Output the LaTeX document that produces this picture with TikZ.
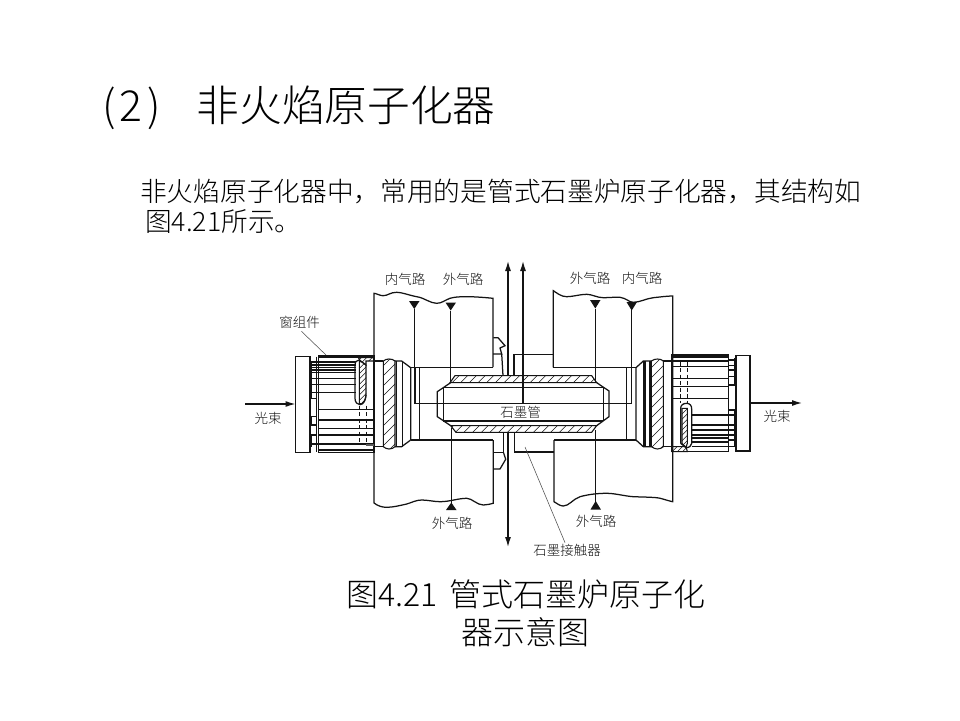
\documentclass[tikz,border=0pt]{standalone}
\usepackage{fontspec}
\setmainfont{Noto Sans CJK SC}[UprightFont=* Light]
\usetikzlibrary{arrows.meta}
\definecolor{ink}{gray}{0.08}
\tikzset{
  part/.style={draw=ink,line width=1.25pt,line join=miter},
  heavy/.style={draw=ink,line width=2pt},
  outline/.style={draw=ink,line width=1.1pt},
  hatchline/.style={draw=ink,line width=.55pt},
  dash part/.style={draw=ink,line width=.9pt,dash pattern=on 4pt off 2.5pt},
  flow/.style={draw=ink,line width=1.25pt,-{Latex[length=10pt,width=6pt]}},
  leader/.style={draw=ink!75,line width=.55pt},
  lab/.style={font=\fontsize{13.5}{14}\selectfont,text=ink,inner sep=0pt},
  slide/.style={text=black,inner sep=0pt,anchor=west},
}
% #1 closed path, #2 xmin, #3 xmax, #4 ymin, #5 ymax, #6 step, #7 run of a stroke
\newcommand\hatched[7]{%
  \begin{scope}
    \clip #1;
    \foreach \hx in {#2,\the\numexpr#2+#6\relax,...,#3} {\draw[hatchline] (\hx,#5) -- ++(#7,{-(#5-#4)});}
  \end{scope}
  \draw[outline] #1;
}
\begin{document}
\begin{tikzpicture}[x=1pt,y=-1pt]
\useasboundingbox (0,0) rectangle (960,720);
\fill[white] (0,0) rectangle (960,720);

% slide text
\node[slide,font=\fontsize{42.7}{44}\selectfont] (title) at (102,107.5) {(\hspace{.1em}2\hspace{.1em})\hspace{.85em}非火焰原子化器};
\node[slide,font=\fontsize{26.7}{28}\selectfont] (body1) at (140,191) {非火焰原子化器中，常用的是管式石墨炉原子化器，其结构如};
\node[slide,font=\fontsize{26.7}{28}\selectfont] (body2) at (145,222) {图4.21所示。};
\node[text=black,inner sep=0pt,font=\fontsize{32}{34}\selectfont] (cap1) at (526,594.5) {图4.21\hspace{.36em}管式石墨炉原子化};
\node[text=black,inner sep=0pt,font=\fontsize{32}{34}\selectfont] (cap2) at (525,632.5) {器示意图};

% blocks
\draw[part] (493,367) -- (493,298.3) .. controls (480,297) and (472,296.7) .. (466.7,296.7) .. controls (458,296.7) and (455,297) .. (450,298.3) .. controls (445,300) and (442,303.3) .. (436.7,303.3) .. controls (430,303.3) and (425,298) .. (416.7,296.7) .. controls (408,295) and (402,292.3) .. (396.7,292.3) .. controls (390,292.3) and (388,295.7) .. (383,295.7) .. controls (380,295.7) and (376,293.3) .. (374,293.3) -- (374,503) .. controls (378,506) and (382,507.3) .. (386.7,507.3) .. controls (393,507.3) and (400,505.5) .. (406.7,504) .. controls (412,502.5) and (416,500) .. (421.7,500) .. controls (428,500) and (434,501.7) .. (440,501.7) .. controls (450,501.7) and (458,498.3) .. (466.7,498.3) .. controls (472,498.3) and (477,505) .. (483.3,505) .. controls (487,505) and (490,504) .. (493.3,503.3) -- (493.3,440);
\draw[part] (553.3,367.3) -- (553.3,290.7) .. controls (557,293) and (561,296.7) .. (566.7,296.7) .. controls (573,296.7) and (580,294.3) .. (586.7,294.3) .. controls (592,294.3) and (597,297.7) .. (603.3,297.7) .. controls (609,297.7) and (614,297) .. (620,297.3) .. controls (626,298) and (629,302.3) .. (633.3,302.3) .. controls (640,302.3) and (646,298.5) .. (653.3,297.7) .. controls (660,297) and (667,296) .. (672.7,296) -- (672.7,501.7) .. controls (665,500) and (661,498) .. (656.7,497.7) .. controls (648,497) and (641,497) .. (633.3,496.7) .. controls (624,496) and (615,493.3) .. (606.7,493.3) .. controls (597,493.3) and (588,494.5) .. (580,496.7) .. controls (573,499) and (569,506) .. (563.3,506) .. controls (560,506) and (557,503.5) .. (554,501.7) -- (554,440);
\draw[part] (410.7,367.5) -- (493,367.5);
\draw[part] (410.7,440) -- (493.3,440);
\draw[part] (553.3,367.5) -- (636,367.5);
\draw[part] (554,440) -- (636,440);

% notches and contacts
\draw[part] (493.3,337.7) -- (498,337.7) -- (505,345.7) -- (500,348) -- (501.7,354) -- (493,354);
\draw[part] (501.7,354) -- (503,375.7);
\draw[part] (493.3,452.5) -- (503.5,452.5) -- (503.5,432);
\draw[part] (503.5,452.5) -- (505.7,459.3) -- (500,469) -- (493.3,469);
\draw[part] (514,375.7) -- (514,354.5) -- (553.3,354.5);
\draw[part] (514.5,432) -- (514.5,452) -- (554,452);

% tube
\begin{scope}[shift={(430,345)},x=1/3*1pt,y=-1/3*1pt]
  \hatched{(75,92) -- (485,92) -- (500,113) -- (60,113) -- cycle}{40}{500}{92}{113}{26}{21}
  \hatched{(62,242) -- (500,242) -- (485,262) -- (78,262) -- cycle}{50}{500}{242}{262}{26}{20}
  \draw[part] (62,113) -- (22,140) -- (22,215) -- (62,242);
  \draw[part] (500,113) -- (537,138) -- (537,215) -- (500,242);
  \draw[part] (40,127) -- (520,127);
  \draw[part] (40,228) -- (520,228);
  \draw[part] (40,127) -- (40,228);
  \draw[part] (520,127) -- (520,228);
\end{scope}
\coordinate (midL) at (415,403.7);
\coordinate (midR) at (631.7,403.7);
\draw[part] (midL) -- (midR);

% left window and collar
\begin{scope}[shift={(290,345)},x=1/3*1pt,y=-1/3*1pt]
  \draw[part] (17,35) rectangle (60,322);
  \draw[part] (85,32) rectangle (252,322);
  \draw[heavy] (85,32) -- (252,32);
  \draw[part] (85,38) -- (252,38);
  \draw[part] (80,35) -- (80,320);
  \draw[part] (63,48) -- (63,160);
  \draw[part] (63,215) -- (63,240);
  \draw[part] (63,270) -- (63,305);
  \foreach \yy in {60,68,82,100,118,142} {\draw[part] (62,\yy) -- (197,\yy);}
  \foreach \yy in {52,75} {\draw[heavy] (62,\yy) -- (197,\yy);}
  \draw[part] (62,160) -- (80,160);
  \draw[part] (62,215) -- (80,215);
  \foreach \yy in {193,225,250,270,315} {\draw[part] (85,\yy) -- (252,\yy);}
  \draw[part] (62,240) -- (80,240);
  \draw[part] (62,270) -- (80,270);
  \draw[heavy] (62,298) -- (252,298);
  \hatched{(205,38) -- (250,38) -- (252,48) -- (228,48) -- (228,60) -- (210,46) -- cycle}{160}{250}{38}{60}{16}{22}
  \hatched{(208,46) -- (228,60) -- (228,150) .. controls (226,165) and (222,172) .. (216,176) -- (208,176) -- cycle}{-10}{228}{46}{176}{16}{130}
  \draw[part] (208,45) .. controls (200,46) and (195,50) .. (195,60) -- (195,160) .. controls (195,172) and (202,179) .. (210,179) .. controls (220,179) and (228,165) .. (228,150);
  \draw[dash part] (207,182) -- (207,298);
  \draw[dash part] (228,182) -- (228,298);
  \fill[ink!70] (228,296) rectangle (252,304);
  \hatched{(280,48) .. controls (285,44) and (290,42) .. (297,42) .. controls (305,42) and (310,44) .. (315,48) -- (315,305) .. controls (310,309) and (305,312) .. (297,312) .. controls (290,312) and (285,309) .. (280,305) -- cycle}{0}{315}{42}{312}{30}{270}
  \draw[part] (252,48) -- (280,48);
  \draw[part] (252,305) -- (280,305);
  \draw[part] (315,48) -- (335,48) -- (362,68) -- (362,285) -- (335,305) -- (315,305);
  \draw[part] (320,48) -- (320,305);
  \draw[part] (338,48) -- (338,305);
  \draw[part] (375,68) -- (375,178);
  \draw[part] (388,68) -- (388,285);
\end{scope}

% right window and collar
\begin{scope}[shift={(610,345)},x=1/3*1pt,y=-1/3*1pt]
  \draw[part] (378,32) rectangle (420,318);
  \draw[part] (186,30) rectangle (355,320);
  \draw[heavy] (186,30) -- (355,30);
  \draw[part] (186,36) -- (355,36);
  \draw[heavy] (186,48) -- (212,48);
  \draw[part] (212,48) -- (355,48);
  \foreach \yy in {65,100,125,160} {\draw[part] (186,\yy) -- (355,\yy);}
  \foreach \yy in {210,240,255,270,305} {\draw[part] (245,\yy) -- (355,\yy);}
  \foreach \yy in {280,290} {\draw[heavy] (245,\yy) -- (355,\yy);}
  \draw[part] (375,40) -- (375,120);
  \draw[part] (375,195) -- (375,305);
  \foreach \yy in {45,62,75,95,120,195,210,240,255,270,285,305} {\draw[part] (355,\yy) -- (376,\yy);}
  \hatched{(186,305) -- (228,305) -- (232,320) -- (186,320) -- cycle}{170}{235}{305}{320}{16}{15}
  \hatched{(216,190) -- (232,190) -- (232,295) -- (228,307) -- (216,295) -- cycle}{100}{232}{190}{307}{16}{117}
  \draw[part] (212,295) -- (212,190) .. controls (212,180) and (220,175) .. (230,175) .. controls (240,175) and (245,182) .. (245,192) -- (245,295) .. controls (245,302) and (238,308) .. (228,308) -- (212,295);
  \draw[dash part] (212,50) -- (212,175);
  \draw[dash part] (232,50) -- (232,175);
  \hatched{(124,48) .. controls (130,44) and (136,42) .. (142,42) .. controls (150,42) and (155,44) .. (160,48) -- (160,305) .. controls (155,309) and (150,312) .. (142,312) .. controls (136,312) and (130,309) .. (124,305) -- cycle}{-150}{160}{42}{312}{30}{270}
  \draw[part] (160,48) -- (186,48);
  \draw[part] (160,305) -- (186,305);
  \draw[part] (124,48) -- (100,48) -- (78,68) -- (78,285) -- (100,305) -- (124,305);
  \draw[part] (100,48) -- (100,305);
  \draw[part] (105,48) -- (105,305);
  \draw[part] (120,48) -- (120,305);
  \draw[part] (50,68) -- (50,285);
  \draw[part] (65,68) -- (65,175);
\end{scope}

% vertical lines with arrows
\coordinate (a1t) at (508,261);
\coordinate (a1m) at (508,376);
\coordinate (a1b) at (508,547);
\coordinate (a1n) at (508,432);
\coordinate (a2t) at (523,261);
\coordinate (a2m) at (523,403.7);
\draw[flow] (a1m) -- (a1t);
\draw[flow] (a1n) -- (a1b);
\draw[flow] (a2m) -- (a2t);

% gas lines
\coordinate (g1) at (414.3,403.7);
\coordinate (g1e) at (414.3,308.5);
\coordinate (g2) at (450.7,382);
\coordinate (g2e) at (450.7,310.5);
\coordinate (g3) at (595.3,382);
\coordinate (g3e) at (595.3,308.5);
\coordinate (g4) at (631.7,403.7);
\coordinate (g4e) at (631.7,310);
\coordinate (g5) at (451.3,428);
\coordinate (g5e) at (451.3,502.7);
\coordinate (g6) at (595.7,430);
\coordinate (g6e) at (595.7,501.5);
\draw[part] (g1) -- (g1e);
\fill[ink] (409,301) -- (419.5,301) -- (414.3,309) -- cycle;
\draw[part] (g2) -- (g2e);
\fill[ink] (445.5,302.5) -- (456,302.5) -- (450.7,310.5) -- cycle;
\draw[part] (g3) -- (g3e);
\fill[ink] (590,300) -- (600.5,300) -- (595.3,308.5) -- cycle;
\draw[part] (g4) -- (g4e);
\fill[ink] (626.5,302) -- (637,302) -- (631.7,310.5) -- cycle;
\draw[part] (g5) -- (g5e);
\fill[ink] (451.3,502.5) -- (456.5,510) -- (446,510) -- cycle;
\draw[part] (g6) -- (g6e);
\fill[ink] (595.7,501) -- (600.9,509.5) -- (590.5,509.5) -- cycle;

% beam arrows
\coordinate (bl1) at (245,404);
\coordinate (bl2) at (295.5,404);
\coordinate (br1) at (750,403);
\coordinate (br2) at (802,403);
\draw[flow] (bl1) -- (bl2);
\draw[flow] (br1) -- (br2);

% labels
\node[lab] (inL) at (405,279) {内气路};
\node[lab] (outL) at (463,279) {外气路};
\node[lab] (outR) at (590,278) {外气路};
\node[lab] (inR) at (642,278) {内气路};
\node[lab] (win) at (299.5,322) {窗组件};
\node[lab] (beamL) at (268,418) {光束};
\node[lab] (beamR) at (777,416) {光束};
\node[lab] (tube) at (520.7,412.5) {石墨管};
\node[lab] (outLB) at (452,523) {外气路};
\node[lab] (outRB) at (596,521) {外气路};
\node[lab] (contact) at (567,550) {石墨接触器};

\coordinate (winEnd) at (326,355);
\coordinate (contactEnd) at (525,447);
\draw[leader] (win.south) ++(2,3) -- (winEnd);
\draw[leader] (contact.north) ++(-2,-1) -- (contactEnd);
\end{tikzpicture}
\end{document}
